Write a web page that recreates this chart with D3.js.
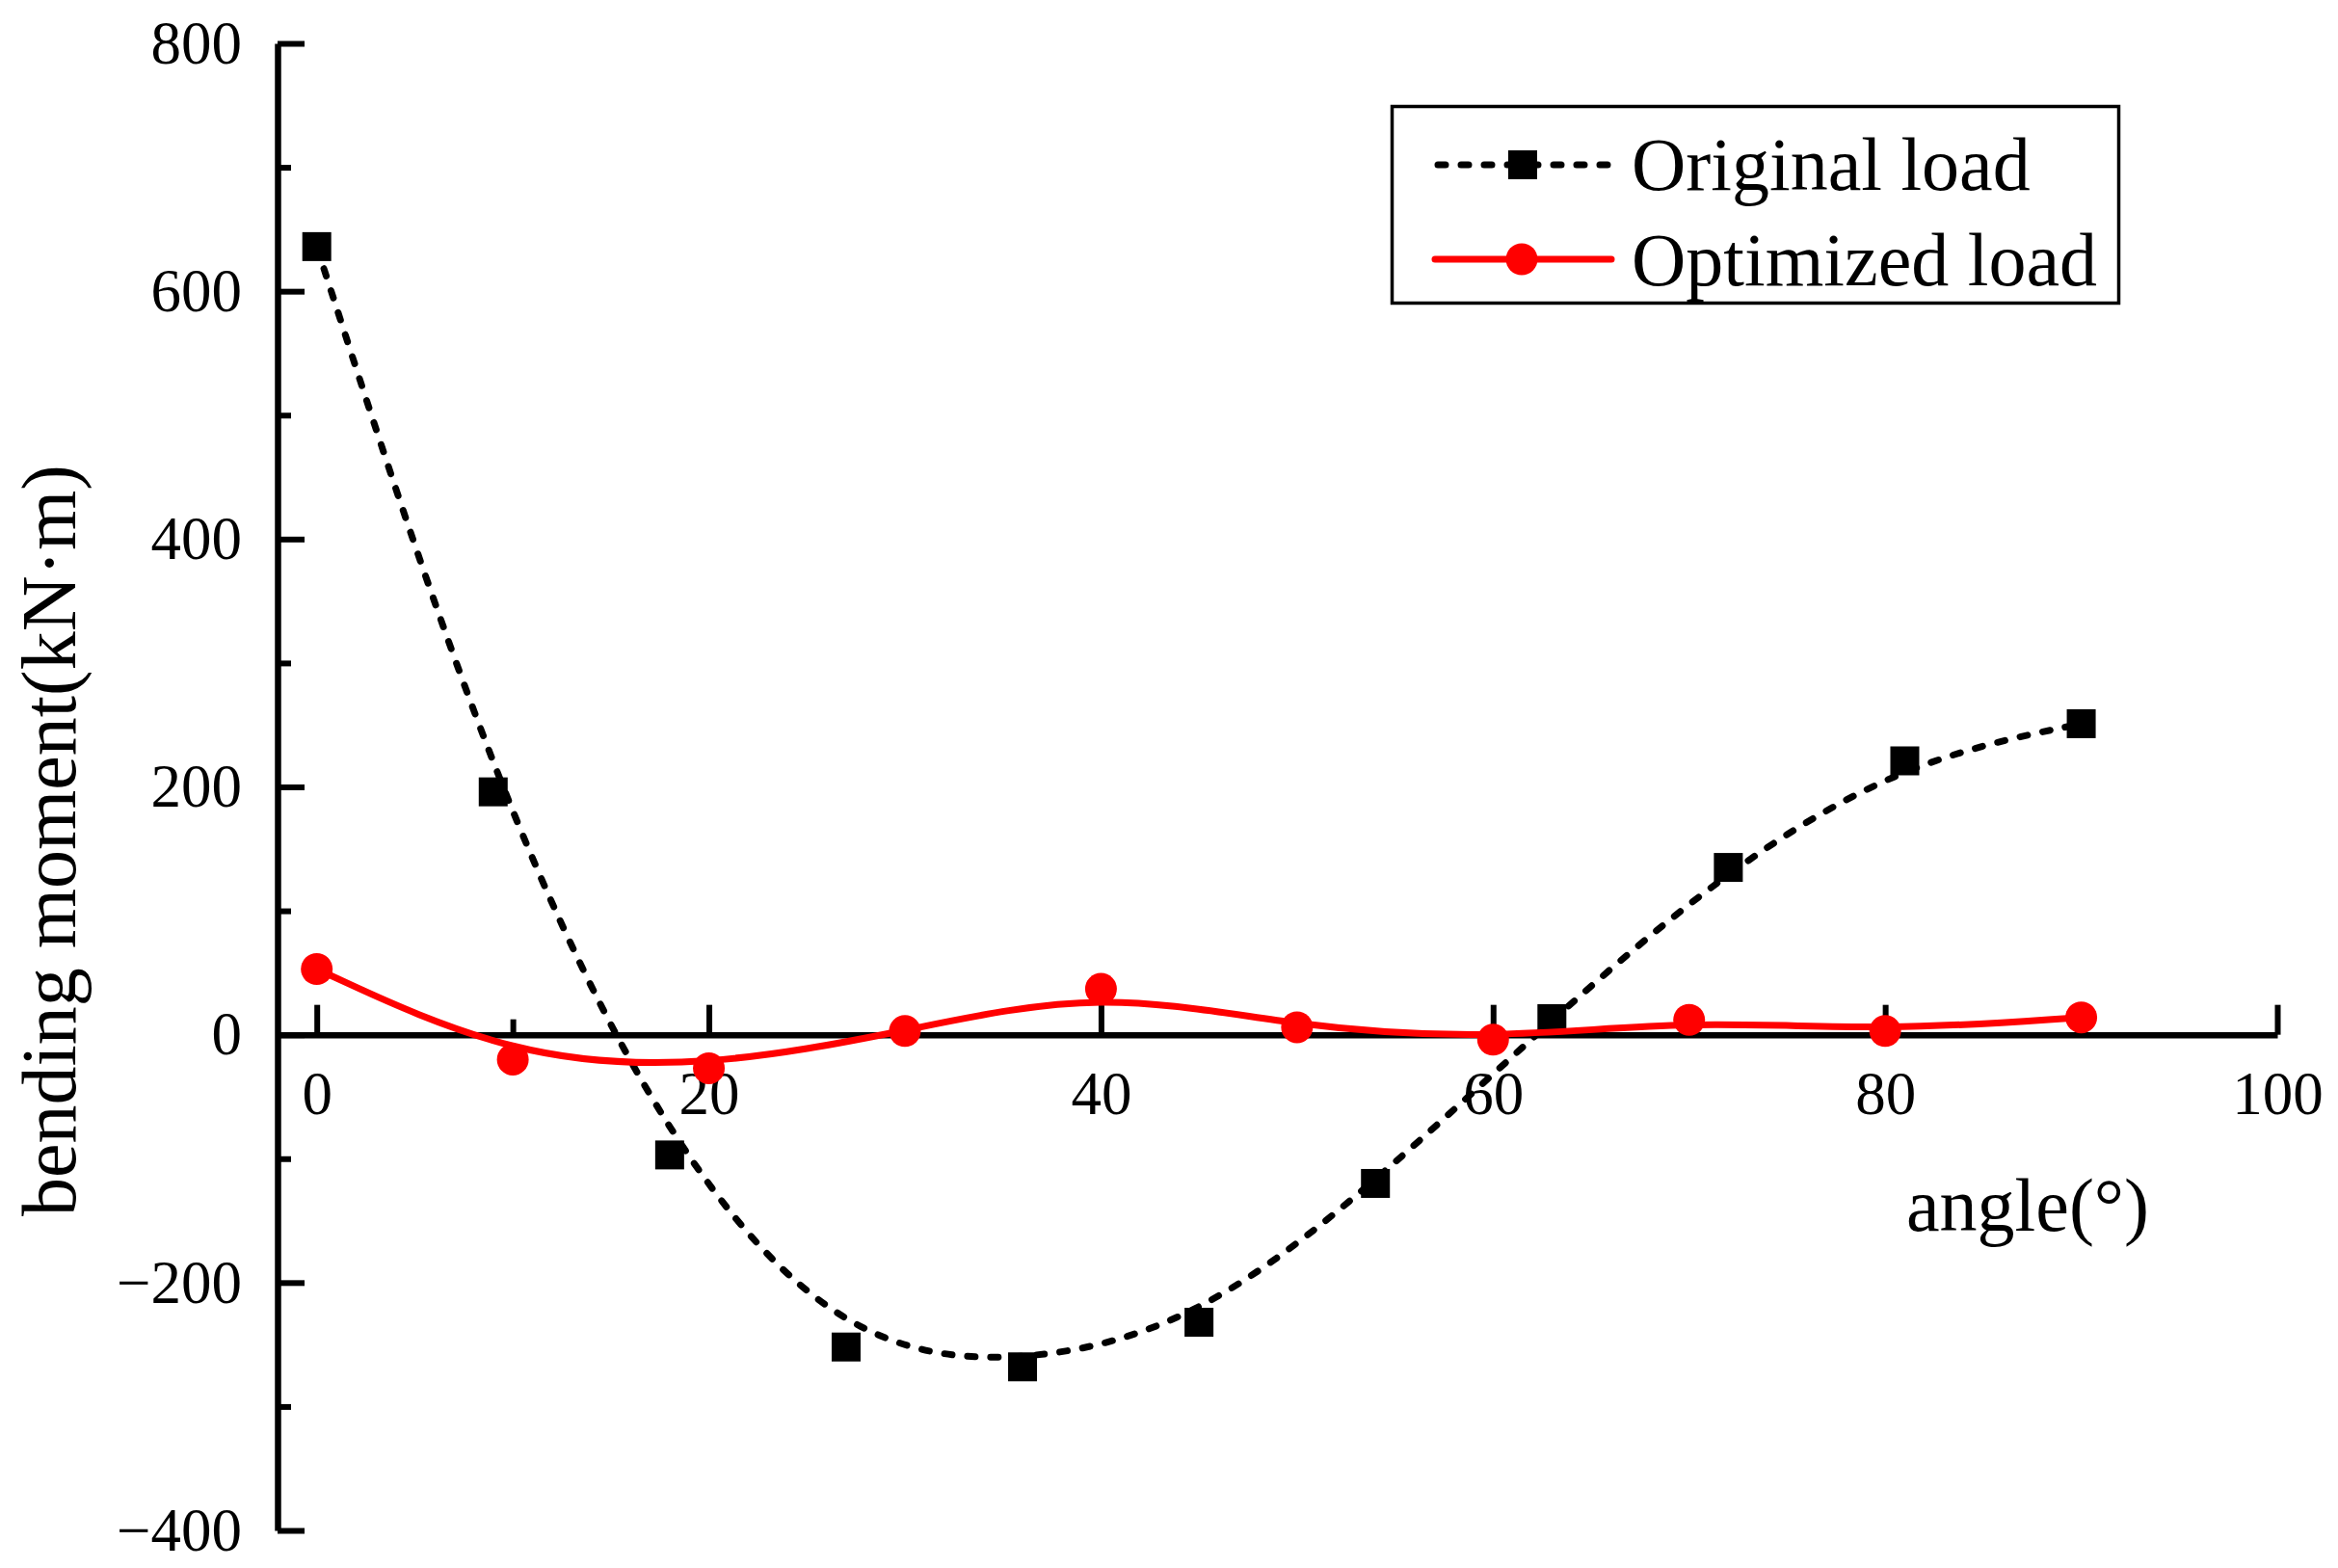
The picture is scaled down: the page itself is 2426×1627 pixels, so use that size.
<!DOCTYPE html>
<html>
<head>
<meta charset="utf-8">
<script src="https://cdn.jsdelivr.net/npm/d3@7"></script>
<style>
  body { margin: 0; background: #fff; }
  svg text { font-family: 'Liberation Serif', 'Times New Roman', serif; fill: #000; }
</style>
</head>
<body>
<svg id="chart" width="2426" height="1627"></svg>
<script>
// ---- data ----
const angleOriginal = [0, 9, 18, 27, 36, 45, 54, 63, 72, 81, 90];
const momentOriginal = [636, 196, -97, -252, -268, -232, -120, 13, 135, 221, 251];

const angleOptimized = [0, 10, 20, 30, 40, 50, 60, 70, 80, 90];
const momentOptimized = [53, -20, -27, 3, 37, 6, -4, 12, 3, 14];

const xTicks = [0, 20, 40, 60, 80, 100];
const xMinorTicks = [10, 30, 50, 70, 90];
const yTicks = [-400, -200, 0, 200, 400, 600, 800];
const yMinorTicks = [-300, -100, 100, 300, 500, 700];

const seriesNames = ['Original load', 'Optimized load'];
const xTitle = 'angle(°)';
const yTitle = 'bending moment(kN·m)';

const RED = '#ff0000';

var svg = d3.select('#chart');

// scales (x axis starts a little before 0, like the origin plot)
var x = d3.scaleLinear().domain([-2, 100]).range([288, 2363]);
var y = d3.scaleLinear().domain([-400, 800]).range([1588, 45]);

const fmt = d => d < 0 ? '\u2212' + Math.abs(d) : String(d);

function styleAxis(g, fontSize) {
    g.attr('font-size', fontSize).attr('font-family', null);
    g.select('.domain').attr('stroke', '#000').attr('stroke-width', 6.5);
    g.selectAll('.tick line').attr('stroke', '#000').attr('stroke-width', 6);
    g.selectAll('.tick text').attr('fill', '#000');
}

// y axis - ticks point inward (right)
var yAxisG = svg.append('g')
    .attr('transform', 'translate(' + x(-2) + ',0)')
    .call(d3.axisLeft(y).tickValues(yTicks).tickSize(-28).tickSizeOuter(0).tickPadding(37).tickFormat(fmt));
styleAxis(yAxisG, 63);

var yMinorG = svg.append('g')
    .attr('transform', 'translate(' + x(-2) + ',0)')
    .call(d3.axisLeft(y).tickValues(yMinorTicks).tickSize(-14).tickSizeOuter(0).tickFormat(''));
yMinorG.select('.domain').remove();
yMinorG.selectAll('.tick line').attr('stroke', '#000').attr('stroke-width', 6);

// x axis sits on y = 0, ticks point up
var xAxisG = svg.append('g')
    .attr('transform', 'translate(0,' + y(0) + ')')
    .call(d3.axisBottom(x).tickValues(xTicks).tickSize(-31).tickSizeOuter(0).tickPadding(38).tickFormat(fmt));
styleAxis(xAxisG, 63);

var xMinorG = svg.append('g')
    .attr('transform', 'translate(0,' + y(0) + ')')
    .call(d3.axisBottom(x).tickValues(xMinorTicks).tickSize(-16).tickSizeOuter(0).tickFormat(''));
xMinorG.select('.domain').remove();
xMinorG.selectAll('.tick line').attr('stroke', '#000').attr('stroke-width', 6);

// axis titles
svg.append('text')
    .attr('transform', 'translate(78,872) rotate(-90)')
    .attr('text-anchor', 'middle')
    .attr('font-size', 80)
    .text(yTitle);

svg.append('text')
    .attr('x', 2104)
    .attr('y', 1277)
    .attr('text-anchor', 'middle')
    .attr('font-size', 78)
    .text(xTitle);

// series
var originalPts = d3.zip(angleOriginal, momentOriginal);
var optimizedPts = d3.zip(angleOptimized, momentOptimized);

var line = d3.line()
    .x(d => x(d[0]))
    .y(d => y(d[1]))
    .curve(d3.curveBasis);

svg.append('path')
    .datum(originalPts)
    .attr('d', line)
    .attr('fill', 'none')
    .attr('stroke', '#000')
    .attr('stroke-width', 7)
    .attr('stroke-linecap', 'round')
    .attr('stroke-dasharray', '8,16');

svg.selectAll('rect.orig')
    .data(originalPts)
    .enter()
    .append('rect')
    .attr('class', 'orig')
    .attr('x', d => x(d[0]) - 15)
    .attr('y', d => y(d[1]) - 15)
    .attr('width', 30)
    .attr('height', 30)
    .attr('fill', '#000');

svg.append('path')
    .datum(optimizedPts)
    .attr('d', line)
    .attr('fill', 'none')
    .attr('stroke', RED)
    .attr('stroke-width', 7);

svg.selectAll('circle.opt')
    .data(optimizedPts)
    .enter()
    .append('circle')
    .attr('class', 'opt')
    .attr('cx', d => x(d[0]))
    .attr('cy', d => y(d[1]))
    .attr('r', 16.5)
    .attr('fill', RED);

// legend
var legend = svg.append('g');
legend.append('rect')
    .attr('x', 1444.5).attr('y', 110.5)
    .attr('width', 754).attr('height', 204)
    .attr('fill', '#fff')
    .attr('stroke', '#000')
    .attr('stroke-width', 3.5);

// Original load row
legend.append('line')
    .attr('x1', 1492).attr('x2', 1672).attr('y1', 171).attr('y2', 171)
    .attr('stroke', '#000').attr('stroke-width', 7)
    .attr('stroke-linecap', 'round').attr('stroke-dasharray', '8,16');
legend.append('rect')
    .attr('x', 1565).attr('y', 156).attr('width', 30).attr('height', 30)
    .attr('fill', '#000');
legend.append('text')
    .attr('x', 1693).attr('y', 197)
    .attr('font-size', 78)
    .text(seriesNames[0]);

// Optimized load row
legend.append('line')
    .attr('x1', 1489).attr('x2', 1672).attr('y1', 269).attr('y2', 269)
    .attr('stroke', RED).attr('stroke-width', 7)
    .attr('stroke-linecap', 'round');
legend.append('circle')
    .attr('cx', 1579).attr('cy', 269).attr('r', 16.5)
    .attr('fill', RED);
legend.append('text')
    .attr('x', 1693).attr('y', 296)
    .attr('font-size', 78)
    .text(seriesNames[1]);
</script>
</body>
</html>
